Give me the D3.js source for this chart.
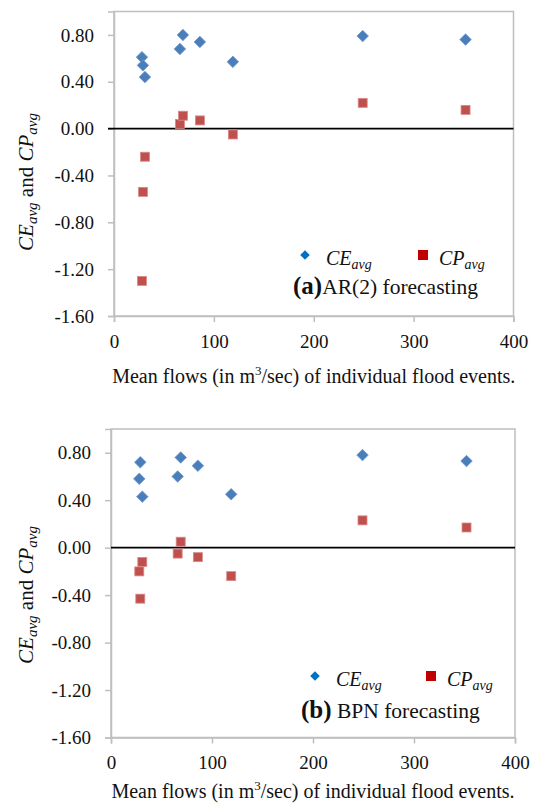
<!DOCTYPE html>
<html>
<head>
<meta charset="utf-8">
<script src="https://cdn.jsdelivr.net/npm/d3@7"></script>
<style>
  html, body { margin: 0; padding: 0; background: #fff; }
  svg { display: block; }
  text { font-family: "Liberation Serif", "DejaVu Serif", "Noto Serif", Tinos, "Times New Roman", serif; fill: #111; }
</style>
</head>
<body>
<svg id="chart" width="547" height="805"></svg>
<script>
// ---- data ----
const flows = [28, 29, 31, 66, 69, 86, 119, 249, 352];
const ceAR  = [0.61, 0.54, 0.44, 0.68, 0.80, 0.74, 0.57, 0.79, 0.76];
const cpAR  = [-1.30, -0.54, -0.24, 0.04, 0.11, 0.07, -0.05, 0.22, 0.16];
const ceBPN = [0.58, 0.72, 0.43, 0.60, 0.76, 0.69, 0.45, 0.78, 0.73];
const cpBPN = [-0.20, -0.43, -0.12, -0.05, 0.05, -0.08, -0.24, 0.23, 0.17];
const xTicks = [0, 100, 200, 300, 400];
const yTicks = [-1.6, -1.2, -0.8, -0.4, 0, 0.4, 0.8];
const panelTags = ["(a)", "(b)"];
const panelNames = ["AR(2) forecasting", " BPN forecasting"];

const svg = d3.select("#chart");
const serif = "'Liberation Serif', 'DejaVu Serif', 'Noto Serif', Tinos, serif";

const panels = [
  { ce: ceAR, cp: cpAR, left: 114, right: 513.5, top: 11.5, bottom: 316,
    zeroStart: -6, titleCy: 182, xPad: 13, xTitleDy: 67,
    leg: { dx: 305, cx: 423, y: 255, tx: 293, ty: 294 } },
  { ce: ceBPN, cp: cpBPN, left: 111, right: 515, top: 429, bottom: 737.5,
    zeroStart: 0, titleCy: 595, xPad: 12, xTitleDy: 60,
    leg: { dx: 315, cx: 431, y: 676, tx: 301, ty: 718 } }
];

const blue = "#4a7ebb", red = "#c0504d";
const legBlue = "#0070c0", legRed = "#c00000";
const gridGray = "#bfbfbf";

panels.forEach((p, i) => {
  const x = d3.scaleLinear().domain([0, 400]).range([p.left, p.right]);
  const y = d3.scaleLinear().domain([-1.6, 1.0]).range([p.bottom, p.top]);
  const g = svg.append("g").attr("font-family", serif);

  g.append("rect")
    .attr("x", p.left).attr("y", p.top)
    .attr("width", p.right - p.left).attr("height", p.bottom - p.top)
    .attr("fill", "none").attr("stroke", gridGray).attr("stroke-width", 1.5);

  const yAxis = d3.axisLeft(y).tickValues(yTicks).tickSize(6).tickPadding(14)
    .tickFormat(v => v.toFixed(2));
  const ya = g.append("g").attr("transform", `translate(${p.left},0)`).call(yAxis)
    .attr("font-family", serif);
  ya.select(".domain").attr("stroke", gridGray).attr("stroke-width", 1.5);
  ya.selectAll(".tick line").attr("stroke", gridGray).attr("stroke-width", 1.5);
  ya.selectAll(".tick text").attr("font-size", 19).attr("fill", "#111");

  const xAxis = d3.axisBottom(x).tickValues(xTicks).tickSize(6).tickPadding(p.xPad)
    .tickFormat(d3.format("d"));
  const xa = g.append("g").attr("transform", `translate(0,${p.bottom})`).call(xAxis)
    .attr("font-family", serif);
  xa.select(".domain").attr("stroke", gridGray).attr("stroke-width", 1.5);
  xa.selectAll(".tick line").attr("stroke", gridGray).attr("stroke-width", 1.5);
  xa.selectAll(".tick text").attr("font-size", 19).attr("fill", "#111");

  g.append("line")
    .attr("x1", p.left + p.zeroStart).attr("x2", p.right)
    .attr("y1", y(0)).attr("y2", y(0))
    .attr("stroke", "#000").attr("stroke-width", 1.6);

  const diamond = d3.symbol().type(d3.symbolSquare).size(66);
  g.selectAll(".ce").data(flows.map((f, k) => [f, p.ce[k]])).join("path")
    .attr("class", "ce")
    .attr("d", diamond)
    .attr("transform", d => `translate(${x(d[0])},${y(d[1])}) rotate(45)`)
    .attr("fill", blue).attr("stroke", "#6f97cc").attr("stroke-width", 0.8);

  g.selectAll(".cp").data(flows.map((f, k) => [f, p.cp[k]])).join("rect")
    .attr("class", "cp")
    .attr("x", d => x(d[0]) - 4.5).attr("y", d => y(d[1]) - 4.5)
    .attr("width", 9).attr("height", 9)
    .attr("fill", red).attr("stroke", "#d98a88").attr("stroke-width", 0.8);

  const L = p.leg;
  g.append("path").attr("d", d3.symbol().type(d3.symbolSquare).size(46))
    .attr("transform", `translate(${L.dx},${L.y}) rotate(45)`).attr("fill", legBlue);
  const t1 = g.append("text").attr("x", L.dx + 21).attr("y", L.y + 10)
    .attr("font-size", 20).attr("font-style", "italic");
  t1.append("tspan").text("CE");
  t1.append("tspan").attr("font-size", 14).attr("dy", 4).text("avg");
  g.append("rect").attr("x", L.cx - 5).attr("y", L.y - 5).attr("width", 10).attr("height", 10)
    .attr("fill", legRed);
  const t2 = g.append("text").attr("x", L.cx + 16).attr("y", L.y + 10)
    .attr("font-size", 20).attr("font-style", "italic");
  t2.append("tspan").text("CP");
  t2.append("tspan").attr("font-size", 14).attr("dy", 4).text("avg");

  const t3 = g.append("text").attr("x", L.tx).attr("y", L.ty).attr("font-size", 21.5);
  t3.append("tspan").attr("font-weight", "bold").attr("font-size", 25).text(panelTags[i]);
  t3.append("tspan").text(panelNames[i]);

  const yt = g.append("text").attr("transform", `translate(33,${p.titleCy}) rotate(-90)`)
    .attr("text-anchor", "middle").attr("font-size", 21);
  yt.append("tspan").attr("font-style", "italic").text("CE");
  yt.append("tspan").attr("font-style", "italic").attr("font-size", 15).attr("dy", 4).text("avg");
  yt.append("tspan").attr("dy", -4).text(" and ");
  yt.append("tspan").attr("font-style", "italic").text("CP");
  yt.append("tspan").attr("font-style", "italic").attr("font-size", 15).attr("dy", 4).text("avg");

  const xt = g.append("text").attr("x", (p.left + p.right) / 2).attr("y", p.bottom + p.xTitleDy)
    .attr("text-anchor", "middle").attr("font-size", 20);
  xt.append("tspan").text("Mean flows (in m");
  xt.append("tspan").attr("font-size", 13).attr("dy", -8).text("3");
  xt.append("tspan").attr("dy", 8).text("/sec) of individual flood events.");
});
</script>
</body>
</html>
